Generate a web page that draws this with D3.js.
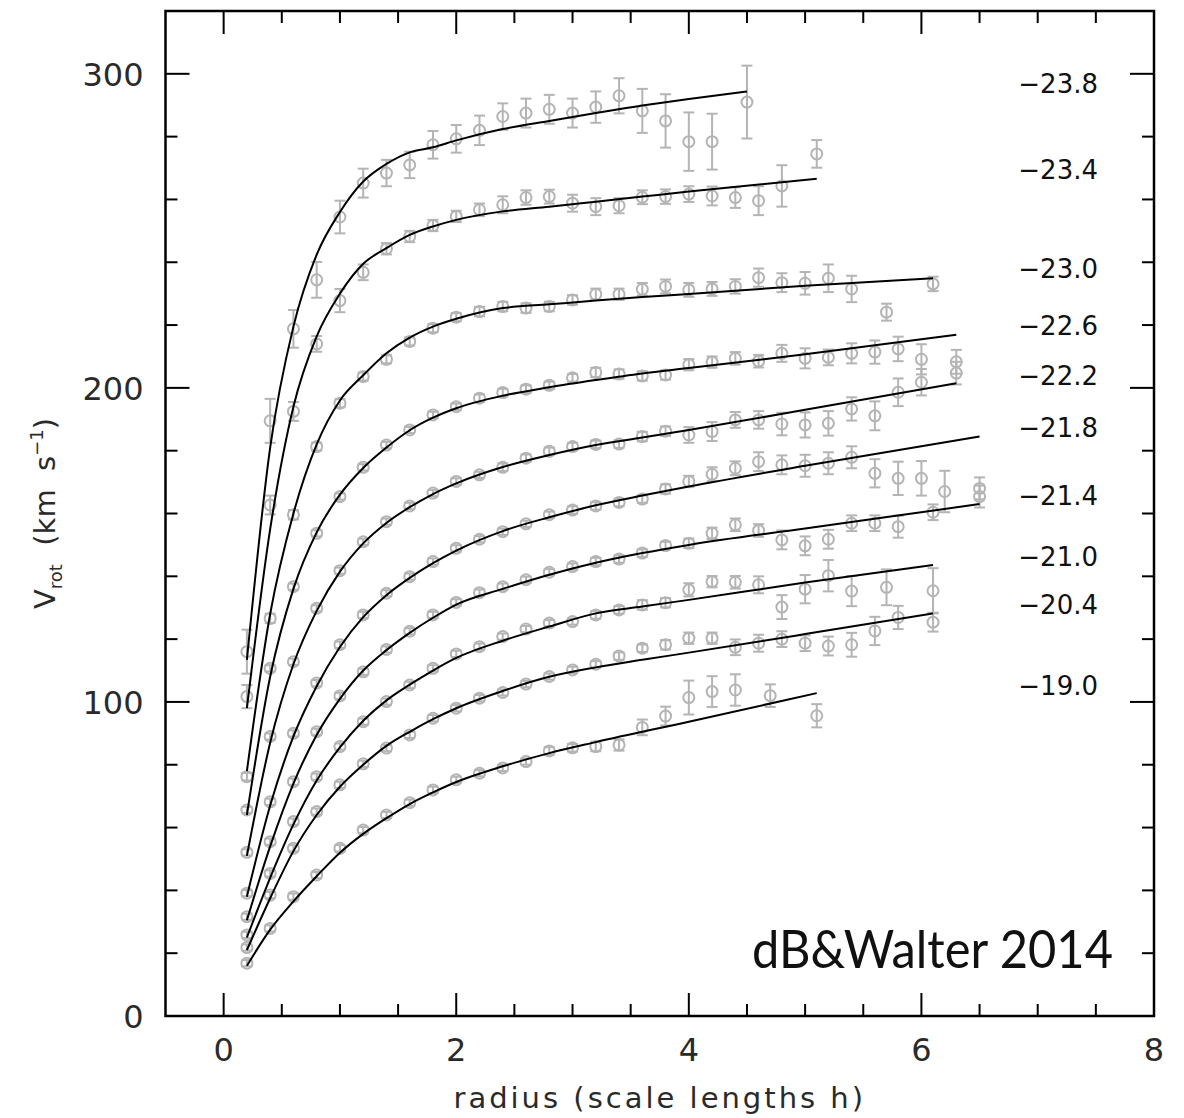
<!DOCTYPE html>
<html>
<head>
<meta charset="utf-8">
<script src="https://cdn.jsdelivr.net/npm/d3@7"></script>
<style>
  body { margin: 0; background: #fff; }
  text { font-family: "DejaVu Sans", sans-serif; }
</style>
</head>
<body>
<svg id="chart" width="1184" height="1118"></svg>
<script>
// ---- data ----
const magLabels = ["−23.8", "−23.4", "−23.0", "−22.6", "−22.2", "−21.8", "−21.4", "−21.0", "−20.4", "−19.0"];
// vertical anchor (km/s) of each magnitude label at the right
const magLabelV = [297, 269.4, 237.9, 220, 203.9, 187.4, 165.7, 146.4, 130.9, 105.2];

// radii of the observed points (scale lengths)
const rGrid = [0.2, 0.4, 0.6, 0.8, 1.0, 1.2, 1.4, 1.6, 1.8, 2.0, 2.2, 2.4, 2.6, 2.8, 3.0, 3.2,
               3.4, 3.6, 3.8, 4.0, 4.2, 4.4, 4.6, 4.8, 5.0, 5.2, 5.4, 5.6, 5.8, 6.0, 6.2];
const obsR = [
  rGrid.slice(0, 21).concat([4.5]),
  rGrid.slice(0, 24).concat([5.1]),
  rGrid.slice(0, 27).concat([5.7, 6.1]),
  rGrid.slice(0, 30).concat([6.3]),
  rGrid.slice(0, 30).concat([6.3]),
  rGrid.slice(0, 31).concat([6.5]),
  rGrid.slice(0, 29).concat([6.1, 6.5]),
  rGrid.slice(0, 27).concat([5.7, 6.1]),
  rGrid.slice(0, 29).concat([6.1]),
  rGrid.slice(0, 22).concat([4.7, 5.1])
];
const obsV = [
  [116, 189.5, 218.8, 234.4, 254.4, 265.2, 268.4, 271, 277.4, 279.3, 282, 286.4, 287.5, 288.7, 287.5, 289.4, 293, 288.2, 285, 278.4, 278.4, 291],
  [101.7, 162.7, 192.5, 214, 227.8, 236.8, 244.3, 248.2, 251.7, 254.6, 256.7, 258.3, 260.6, 260.9, 258.8, 257.7, 258, 260.7, 260.9, 261.7, 261.1, 260.6, 259.6, 264.3, 274.5],
  [76.2, 126.6, 159.6, 181.3, 195.1, 203.6, 209.1, 214.8, 219, 222.5, 224.3, 225.9, 225.4, 225.9, 228, 229.8, 229.8, 231.4, 232.3, 231.2, 231.5, 232.3, 235.1, 233.5, 233.3, 234.9, 231.5, 224.1, 233.1],
  [65.6, 110.7, 136.7, 153.7, 165.4, 174.7, 181.8, 186.6, 191.4, 194, 196.7, 198.5, 199.6, 200.8, 203.2, 204.9, 204.4, 203.8, 204.1, 207.4, 208.2, 209.4, 208.5, 211, 209.4, 209.7, 211, 211.4, 212.4, 209.1, 208.3],
  [52.1, 89, 112.8, 129.8, 141.8, 151, 157.4, 162.4, 166.5, 170.2, 172.3, 174.7, 177.6, 179.8, 181.3, 182, 182.1, 184.5, 186.2, 185, 186.1, 189.8, 189.8, 188.5, 188.2, 188.7, 193.3, 191.1, 198.6, 201.8, 204.7],
  [39.1, 68.2, 90, 106, 118.2, 127.7, 134.6, 139.9, 144.7, 148.9, 151.8, 154.2, 156.7, 159.6, 161.1, 162.4, 163.5, 164.6, 167.8, 170.2, 172.5, 174.4, 176.5, 175.5, 175.2, 176, 177.9, 172.8, 171.2, 171.2, 167, 168],
  [31.6, 55.5, 74.6, 90.5, 101.9, 109.6, 116.7, 122.5, 127.7, 131.7, 134.8, 136.7, 138.9, 141.3, 143.1, 144.7, 145.5, 147.4, 149.8, 150.5, 153.7, 156.4, 154.6, 151.6, 149.7, 151.8, 156.9, 156.9, 155.8, 160.4, 165.4],
  [25.8, 45.4, 61.9, 76.2, 85.8, 93.7, 100.1, 105.4, 110.7, 115.3, 117.6, 120.8, 123.2, 125.1, 125.6, 127.7, 129.3, 130.9, 131.6, 135.7, 138.3, 138.1, 137.3, 130.2, 135.9, 140.2, 135.3, 136.5, 135.4],
  [21.8, 38.5, 53.4, 65.1, 73.6, 80.3, 85.3, 89.5, 94.8, 98, 101.2, 103, 105.7, 108.1, 110.2, 112, 114.6, 117.1, 118.2, 120.3, 120.3, 117.4, 118.7, 120, 118.7, 117.8, 118.2, 122.6, 126.9, 125.4],
  [16.8, 27.9, 38, 44.9, 53.4, 59.2, 64, 67.9, 72, 75.2, 77.3, 79, 81, 84.4, 85.4, 85.8, 86.3, 91.9, 95.5, 101.4, 103.3, 103.8, 102, 95.6]
];
const obsErr = [
  [7, 7, 6, 5.7, 5.2, 4.6, 4.2, 4.2, 4.4, 4.4, 4.7, 4.2, 4.6, 4.6, 4.6, 5, 5.6, 7, 8.5, 9.3, 8.9, 11.6],
  [3.7, 3, 3, 2.5, 3.7, 2.5, 1.8, 1.8, 1.8, 1.8, 2, 2.7, 2.3, 2.2, 2.7, 2.7, 2.4, 2.2, 2.3, 2.5, 3, 3.3, 4.6, 6.6, 4.4],
  [1.2, 1.5, 1.5, 1.3, 1.3, 1.3, 1.3, 1.3, 1.3, 1.3, 1.5, 1.5, 1.5, 1.5, 1.5, 1.8, 1.8, 2, 2.2, 2.2, 2.2, 2.3, 2.9, 3, 3.6, 4.4, 4.2, 2.7, 2.3],
  [1, 1, 1, 1, 1, 1, 1, 1, 1, 1, 1.2, 1.2, 1.2, 1.2, 1.2, 1.5, 1.5, 1.5, 1.5, 1.8, 1.8, 2, 2, 2.7, 3.2, 2.5, 3.2, 3.7, 3.9, 4.8, 3.8],
  [1, 1, 1, 1, 1, 1, 1, 1, 1, 1, 1, 1.2, 1.2, 1.2, 1.2, 1.2, 1.2, 1.5, 1.5, 2.5, 3, 2.5, 2.8, 3.6, 4, 3.9, 3.7, 4.6, 4.4, 4.2, 3.6],
  [1, 1, 1, 1, 1, 1, 1, 1, 1, 1, 1, 1, 1, 1, 1.2, 1.2, 1.2, 1.2, 1.5, 1.8, 2.2, 2.2, 3, 3, 3.5, 3.5, 3.5, 4.5, 5.3, 5.5, 6.6, 3.5],
  [1, 1, 1, 1, 1, 1, 1, 1, 1, 1, 1, 1, 1, 1, 1, 1.2, 1.2, 1.2, 1.2, 1.5, 1.8, 2, 2, 3, 3, 3, 2.5, 2.5, 3.5, 2.5, 3.5],
  [1, 1, 1, 1, 1, 1, 1, 1, 1, 1, 1, 1, 1, 1, 1, 1.2, 1.2, 1.5, 1.5, 2.1, 1.8, 2, 2.7, 3.8, 4.5, 5, 4.8, 5.7, 7.2],
  [1, 1, 1, 1, 1, 1, 1, 1, 1, 1, 1, 1, 1, 1, 1, 1, 1.2, 1.2, 1.5, 1.8, 1.8, 2.5, 2.7, 2.5, 2.5, 3, 3.8, 4.5, 3.7, 3],
  [1, 1, 1, 1, 1, 1, 1, 1, 1, 1, 1, 1, 1, 1.2, 1.2, 1.5, 1.8, 2.5, 3, 5.4, 4.9, 5, 3.6, 3.7]
];

// model curves (knots)
const fitR = [
  [0.2, 0.4, 0.6, 0.8, 1.0, 1.2, 1.4, 1.6, 1.8, 2.0, 2.4, 2.8, 3.2, 3.6, 4.0, 4.5],
  [0.2, 0.4, 0.6, 0.8, 1.0, 1.2, 1.4, 1.6, 1.8, 2.0, 2.4, 2.8, 3.2, 3.6, 4.0, 5.1],
  [0.2, 0.4, 0.6, 0.8, 1.0, 1.2, 1.4, 1.6, 1.8, 2.0, 2.4, 2.8, 3.2, 3.6, 4.0, 5.0, 6.1],
  [0.2, 0.4, 0.6, 0.8, 1.0, 1.2, 1.4, 1.6, 1.8, 2.0, 2.4, 2.8, 3.2, 3.6, 4.0, 5.0, 6.3],
  [0.2, 0.4, 0.6, 0.8, 1.0, 1.2, 1.4, 1.6, 1.8, 2.0, 2.4, 2.8, 3.2, 3.6, 4.0, 5.0, 6.3],
  [0.2, 0.4, 0.6, 0.8, 1.0, 1.2, 1.4, 1.6, 1.8, 2.0, 2.4, 2.8, 3.2, 3.6, 4.0, 5.0, 6.5],
  [0.2, 0.4, 0.6, 0.8, 1.0, 1.2, 1.4, 1.6, 1.8, 2.0, 2.4, 2.8, 3.2, 3.6, 4.0, 5.0, 6.5],
  [0.2, 0.4, 0.6, 0.8, 1.0, 1.2, 1.4, 1.6, 1.8, 2.0, 2.4, 2.8, 3.2, 3.6, 4.0, 5.0, 6.1],
  [0.2, 0.4, 0.6, 0.8, 1.0, 1.2, 1.4, 1.6, 1.8, 2.0, 2.4, 2.8, 3.2, 3.6, 4.0, 5.0, 6.1],
  [0.2, 0.4, 0.6, 0.8, 1.0, 1.2, 1.4, 1.6, 1.8, 2.0, 2.4, 2.8, 3.2, 4.0, 5.1]
];
const fitV = [
  [113.4, 181, 219.5, 242.4, 256, 265.7, 271.3, 275, 276.6, 278.8, 282.4, 285, 287.5, 289.9, 292, 294.4],
  [98, 155, 194, 216.4, 230, 239.5, 244.5, 248.7, 251.4, 253.5, 256.2, 257.7, 259.3, 260.9, 262.5, 266.6],
  [78, 128, 160, 182, 196, 204, 211, 216, 219.5, 222, 225.4, 226.6, 227.8, 228.9, 229.9, 232.5, 234.9],
  [64, 108, 136, 154, 166, 174.5, 181, 186.5, 190.5, 193.5, 197.5, 200.2, 202.5, 204.6, 206.3, 210.7, 216.9],
  [51, 87, 112, 129, 141.5, 150.5, 157, 162, 166.2, 169.6, 174.8, 178.6, 181.8, 184.2, 186.6, 193, 201.5],
  [38, 67, 89, 105, 117.5, 127, 134, 139.5, 144.2, 148.2, 154.4, 158.8, 162.6, 165.7, 168.6, 175.2, 184.5],
  [30.5, 54, 74, 89.5, 101, 110, 116.5, 122, 126.8, 131, 136, 140.5, 144.3, 147.4, 150, 155.2, 163],
  [25, 44, 61, 75, 85.5, 94, 100.5, 105.5, 110, 114, 119.5, 124, 128.2, 130.4, 132.5, 138, 143.6],
  [21, 37.5, 52.5, 64, 73, 80, 86, 90.5, 94.5, 98, 103.5, 108, 111, 113.4, 115.7, 121.6, 128.2],
  [16, 27.5, 36.5, 44.5, 52, 58, 63, 67.5, 71.2, 74.5, 79.5, 83.7, 87.2, 93.7, 102.8]
];

const xMajor = [0, 2, 4, 6, 8];
const xMinor = [0.5, 1, 1.5, 2.5, 3, 3.5, 4.5, 5, 5.5, 6.5, 7, 7.5];
const yMajor = [0, 100, 200, 300];
const yMinor = [20, 40, 60, 80, 120, 140, 160, 180, 220, 240, 260, 280];

// ---- drawing ----
const svg = d3.select("#chart");
const x = d3.scaleLinear().domain([-0.5, 8]).range([165.5, 1154]);
const y = d3.scaleLinear().domain([0, 320]).range([1016, 11]);

const grey = "#b4b4b4";
const rad = 5.5;

// observed points with error bars
const pts = [];
obsV.forEach((vs, k) => {
  const n = Math.min(vs.length, obsR[k].length, obsErr[k].length);
  for (let i = 0; i < n; i++) pts.push({ r: obsR[k][i], v: vs[i], e: obsErr[k][i] });
});

const gPts = svg.append("g").attr("stroke", grey).attr("stroke-width", 2).attr("fill", "none");
const pg = gPts.selectAll("g.pt").data(pts).join("g").attr("class", "pt");
pg.append("line")
  .attr("x1", d => x(d.r)).attr("x2", d => x(d.r))
  .attr("y1", d => y(d.v - d.e)).attr("y2", d => y(d.v + d.e));
pg.append("line")
  .attr("x1", d => x(d.r) - rad).attr("x2", d => x(d.r) + rad)
  .attr("y1", d => y(d.v + d.e)).attr("y2", d => y(d.v + d.e));
pg.append("line")
  .attr("x1", d => x(d.r) - rad).attr("x2", d => x(d.r) + rad)
  .attr("y1", d => y(d.v - d.e)).attr("y2", d => y(d.v - d.e));
pg.append("circle")
  .attr("cx", d => x(d.r)).attr("cy", d => y(d.v)).attr("r", rad);

// model lines
const line = d3.line().x(d => x(d[0])).y(d => y(d[1])).curve(d3.curveMonotoneX);
svg.append("g").selectAll("path")
  .data(fitV.map((vs, k) => vs.map((v, i) => [fitR[k][i], v])))
  .join("path")
  .attr("d", line)
  .attr("fill", "none")
  .attr("stroke", "#000")
  .attr("stroke-width", 2);

// frame
svg.append("rect")
  .attr("x", x(-0.5)).attr("y", y(320))
  .attr("width", x(8) - x(-0.5)).attr("height", y(0) - y(320))
  .attr("fill", "none").attr("stroke", "#000").attr("stroke-width", 2.5);

// ticks on all four sides, pointing inward
const ticks = svg.append("g").attr("stroke", "#000").attr("stroke-width", 2);
const xt = xMajor.filter(v => v < 8).map(v => ({ v, len: 23 })).concat(xMinor.map(v => ({ v, len: 12 })));
ticks.selectAll("line.xb").data(xt).join("line").attr("class", "xb")
  .attr("x1", d => x(d.v)).attr("x2", d => x(d.v))
  .attr("y1", y(0)).attr("y2", d => y(0) - d.len);
ticks.selectAll("line.xt").data(xt).join("line").attr("class", "xt")
  .attr("x1", d => x(d.v)).attr("x2", d => x(d.v))
  .attr("y1", y(320)).attr("y2", d => y(320) + d.len);
const yt = yMajor.filter(v => v > 0).map(v => ({ v, len: 24 })).concat(yMinor.map(v => ({ v, len: 12 })));
ticks.selectAll("line.yl").data(yt).join("line").attr("class", "yl")
  .attr("y1", d => y(d.v)).attr("y2", d => y(d.v))
  .attr("x1", x(-0.5)).attr("x2", d => x(-0.5) + d.len);
ticks.selectAll("line.yr").data(yt).join("line").attr("class", "yr")
  .attr("y1", d => y(d.v)).attr("y2", d => y(d.v))
  .attr("x1", x(8)).attr("x2", d => x(8) - d.len);

// tick labels
svg.append("g").selectAll("text").data(xMajor).join("text")
  .attr("x", d => x(d)).attr("y", y(0) + 45)
  .attr("text-anchor", "middle").attr("font-size", 32).attr("fill", "#2a2a2a")
  .text(d => d);
svg.append("g").selectAll("text").data(yMajor).join("text")
  .attr("x", x(-0.5) - 22).attr("y", d => y(d) + 12)
  .attr("text-anchor", "end").attr("font-size", 32).attr("fill", "#2a2a2a")
  .text(d => d);

// magnitude labels
svg.append("g").selectAll("text").data(magLabels).join("text")
  .attr("x", x(8) - 56).attr("y", (d, i) => y(magLabelV[i]) + 9.5)
  .attr("text-anchor", "end").attr("font-size", 26).attr("fill", "#111")
  .text(d => d);

// axis titles
svg.append("text")
  .attr("x", (x(-0.5) + x(8)) / 2).attr("y", 1108)
  .attr("text-anchor", "middle").attr("font-size", 29).attr("fill", "#2a2a2a")
  .attr("letter-spacing", 3)
  .text("radius (scale lengths h)");

const yl = svg.append("text")
  .attr("transform", `translate(55,${(y(0) + y(320)) / 2}) rotate(-90)`)
  .attr("text-anchor", "middle").attr("font-size", 29).attr("fill", "#2a2a2a")
  .style("white-space", "pre");
yl.append("tspan").text("V");
yl.append("tspan").attr("font-size", 18).attr("dy", 7).text("rot");
yl.append("tspan").attr("dy", -7).text("  (km  s");
yl.append("tspan").attr("font-size", 18).attr("dy", -12).text("−1");
yl.append("tspan").attr("dy", 12).text(")");

// citation stamp
svg.append("text")
  .attr("x", 1113).attr("y", 968)
  .attr("text-anchor", "end")
  .style("font-family", "Lato, 'Open Sans', sans-serif")
  .attr("font-size", 53).attr("fill", "#111")
  .attr("textLength", 361).attr("lengthAdjust", "spacingAndGlyphs")
  .text("dB&Walter 2014");
</script>
</body>
</html>
